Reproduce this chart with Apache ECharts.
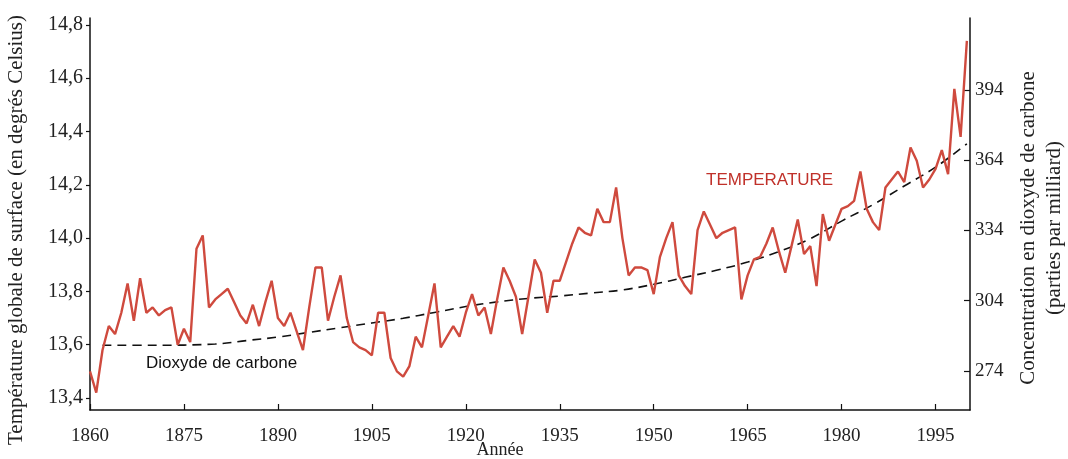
<!DOCTYPE html>
<html>
<head>
<meta charset="utf-8">
<script src="https://cdn.jsdelivr.net/npm/echarts@6/dist/echarts.min.js"></script>
<style>html,body{margin:0;padding:0;background:#fff;}#c{width:1068px;height:459px;}</style>
</head>
<body>
<div id="c"></div>
<script>
// Years (annual temperature record)
const years = [];
for (let y = 1860; y <= 2000; y++) years.push(y);

// Global surface temperature (°C), 1860..2000
const temperature = [
  13.50, 13.42, 13.58, 13.67, 13.64, 13.72, 13.83, 13.69, 13.85, 13.72,
  13.74, 13.71, 13.73, 13.74, 13.60, 13.66, 13.61, 13.96, 14.01, 13.74,
  13.77, 13.79, 13.81, 13.76, 13.71, 13.68, 13.75, 13.67, 13.76, 13.84,
  13.70, 13.67, 13.72, 13.65, 13.58, 13.74, 13.89, 13.89, 13.69, 13.78,
  13.86, 13.70, 13.61, 13.59, 13.58, 13.56, 13.72, 13.72, 13.55, 13.50,
  13.48, 13.52, 13.63, 13.59, 13.71, 13.83, 13.59, 13.63, 13.67, 13.63,
  13.72, 13.79, 13.71, 13.74, 13.64, 13.77, 13.89, 13.84, 13.78, 13.64,
  13.78, 13.92, 13.87, 13.72, 13.84, 13.84, 13.91, 13.98, 14.04, 14.02,
  14.01, 14.11, 14.06, 14.06, 14.19, 14.00, 13.86, 13.89, 13.89, 13.88,
  13.79, 13.93, 14.00, 14.06, 13.86, 13.82, 13.79, 14.03, 14.10, 14.05,
  14.00, 14.02, 14.03, 14.04, 13.77, 13.86, 13.92, 13.93, 13.98, 14.04,
  13.95, 13.87, 13.97, 14.07, 13.94, 13.97, 13.82, 14.09, 13.99, 14.05,
  14.11, 14.12, 14.14, 14.25, 14.11, 14.06, 14.03, 14.19, 14.22, 14.25,
  14.21, 14.34, 14.29, 14.19, 14.22, 14.26, 14.33, 14.24, 14.56, 14.38,
  14.74
];

// CO2 concentration (right axis)
const co2Years = [1862, 1870, 1880, 1885, 1890, 1895, 1900, 1905, 1910, 1915, 1920, 1925, 1930, 1935, 1940, 1945, 1950, 1955, 1960, 1965, 1970, 1975, 1980, 1985, 1990, 1995, 2000];
const co2Values = [285, 285, 285.5, 287, 288.5, 290.5, 292.5, 294.5, 296.5, 299, 301.5, 303.5, 305, 306, 307.3, 308.6, 311, 314, 317, 320.5, 325, 330.5, 338, 345, 353, 361, 371];

// Tick labels
const yearTicks = [1860, 1875, 1890, 1905, 1920, 1935, 1950, 1965, 1980, 1995];
const tempTicks = [13.4, 13.6, 13.8, 14.0, 14.2, 14.4, 14.6, 14.8];
const co2Ticks = [274, 304, 334, 364, 394];

const tempData = years.map((y, i) => [y, temperature[i]]);
const co2Data = co2Years.map((y, i) => [y, co2Values[i]]);

const serif = '"Liberation Serif", "DejaVu Serif", serif';
const sans = '"Liberation Sans", Arial, sans-serif';
const ink = '#222';

const chart = echarts.init(document.getElementById('c'), null, {renderer: 'canvas'});
chart.setOption({
  animation: false,
  backgroundColor: '#fff',
  grid: {left: 90, right: 98, top: 18, bottom: 49, containLabel: false, outerBoundsMode: 'none'},
  xAxis: {
    type: 'value', min: 1860, max: 2000.5,
    name: 'Année', nameLocation: 'middle', nameGap: 31, nameMoveOverlap: false,
    nameTextStyle: {fontFamily: serif, fontSize: 18, color: ink, padding: [0, 60, 0, 0]},
    axisLine: {show: true, lineStyle: {color: '#111', width: 1.5}},
    axisTick: {show: true, inside: true, length: 6, customValues: yearTicks, lineStyle: {color: '#111', width: 1.2}},
    axisLabel: {customValues: yearTicks, fontFamily: serif, fontSize: 19, color: ink, margin: 17, formatter: v => String(v)},
    splitLine: {show: false}
  },
  yAxis: [
    {
      type: 'value', min: 13.355, max: 14.826, position: 'left',
      name: 'Température globale de surface (en degrés Celsius)',
      nameLocation: 'middle', nameRotate: 90, nameGap: 63, nameMoveOverlap: false,
      nameTextStyle: {fontFamily: serif, fontSize: 21, color: ink, padding: [0, 32, 0, 0]},
      axisLine: {show: true, lineStyle: {color: '#111', width: 1.5}},
      axisTick: {show: true, inside: false, length: 4, customValues: tempTicks, lineStyle: {color: '#111', width: 1.2}},
      axisLabel: {customValues: tempTicks, fontFamily: serif, fontSize: 20, color: ink, margin: 7,
        formatter: v => v.toFixed(1).replace('.', ',')},
      splitLine: {show: false}
    },
    {
      type: 'value', min: 257.35, max: 424.7, position: 'right',
      name: 'Concentration en dioxyde de carbone\n(parties par milliard)',
      nameLocation: 'middle', nameRotate: 90, nameGap: 45, nameMoveOverlap: false,
      nameTextStyle: {fontFamily: serif, fontSize: 21, color: ink, lineHeight: 26, align: 'center', padding: [0, 28, 0, 0]},
      axisLine: {show: true, lineStyle: {color: '#111', width: 1.5}},
      axisTick: {show: true, inside: true, length: 6, customValues: co2Ticks, lineStyle: {color: '#111', width: 1.2}},
      axisLabel: {customValues: co2Ticks, fontFamily: serif, fontSize: 19, color: ink, margin: 5},
      splitLine: {show: false}
    }
  ],
  series: [
    {
      name: 'Dioxyde de carbone', type: 'line', yAxisIndex: 1, data: co2Data,
      smooth: 0.4, showSymbol: false, z: 2,
      lineStyle: {color: '#111', width: 1.6, type: [9, 6]}
    },
    {
      name: 'TEMPERATURE', type: 'line', yAxisIndex: 0, data: tempData,
      showSymbol: false, z: 3,
      lineStyle: {color: '#cf4a3e', width: 2.4}
    }
  ],
  graphic: [
    {type: 'text', left: 706, top: 172, style: {text: 'TEMPERATURE', fill: '#c0312a', font: '17px ' + sans}},
    {type: 'text', left: 146, top: 355, style: {text: 'Dioxyde de carbone', fill: '#111', font: '17px ' + sans}}
  ]
});
</script>
</body>
</html>
